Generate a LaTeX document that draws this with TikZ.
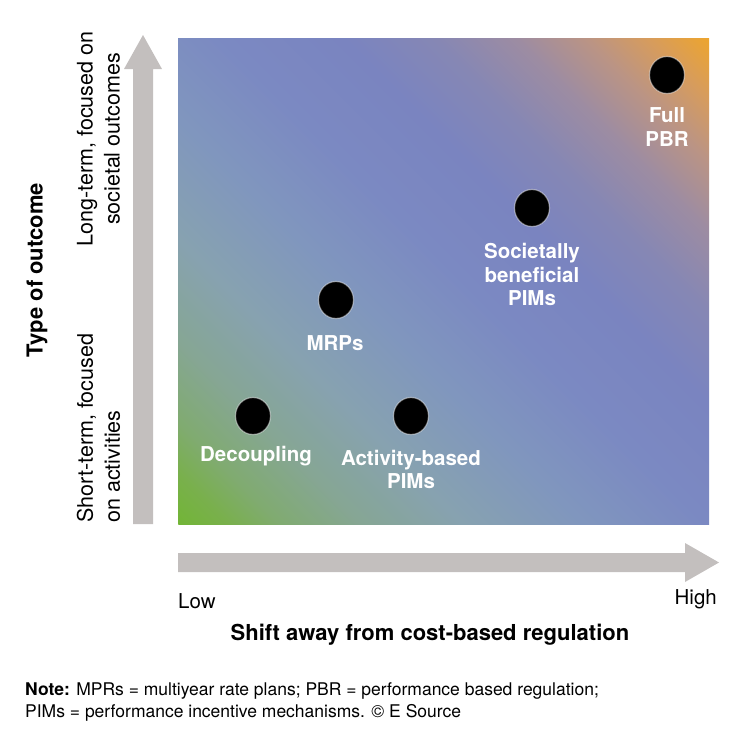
\documentclass[tikz,border=0pt]{standalone}
\usepackage{fontspec}
\setmainfont{TeX Gyre Heros}
\usetikzlibrary{shapes.geometric}
\definecolor{arrowgray}{HTML}{C3BFBE}
\definecolor{gA}{HTML}{72B536}
\definecolor{gB}{HTML}{79B04C}
\definecolor{gC}{HTML}{80AB70}
\definecolor{gD}{HTML}{86A694}
\definecolor{gE}{HTML}{87A2B0}
\definecolor{gF}{HTML}{8096BE}
\definecolor{gG}{HTML}{7B89C2}
\definecolor{gH}{HTML}{7A84C0}
\definecolor{gI}{HTML}{8687B4}
\definecolor{gJ}{HTML}{9D8CA2}
\definecolor{gK}{HTML}{BB9484}
\definecolor{gL}{HTML}{D79C5C}
\definecolor{gM}{HTML}{EDA52E}
\pgfdeclarehorizontalshading{diagshade}{100bp}{color(0bp)=(gA); color(25bp)=(gA); color(27.5bp)=(gB); color(30bp)=(gC); color(34bp)=(gD); color(39bp)=(gE); color(45bp)=(gF); color(51bp)=(gG); color(57bp)=(gH); color(61.5bp)=(gI); color(65.5bp)=(gJ); color(69bp)=(gK); color(72bp)=(gL); color(75bp)=(gM); color(100bp)=(gM)}
\tikzset{
  dot/.style={ellipse, fill=black, draw=white, draw opacity=0.45, line width=1.2pt, minimum width=35pt, minimum height=37pt, inner sep=0pt},
  lbl/.style={text=white, font=\fontsize{20.5}{23.5}\selectfont\bfseries, align=center, inner sep=0pt},
  axtxt/.style={font=\fontsize{21.5}{27}\selectfont, inner sep=0pt},
  lohi/.style={font=\fontsize{20.5}{24}\selectfont, inner sep=0pt},
  axttl/.style={font=\fontsize{22}{26}\selectfont\bfseries, inner sep=0pt},
  notetxt/.style={font=\fontsize{17.5}{22}\selectfont, inner sep=0pt, align=left}
}
\begin{document}
\begin{tikzpicture}[x=1pt,y=-1pt]
\useasboundingbox (0,0) rectangle (732,740);
% gradient square
\begin{scope}
  \clip (178,38) rectangle (709,524);
  \begin{scope}[transform canvas={shift={(443.5,281)},rotate=45}]
    \shade[shading=diagshade] (-359.6,-420) rectangle (359.6,420);
  \end{scope}
\end{scope}
% axis arrows
\fill[arrowgray] (133,524) -- (133,69) -- (124,69) -- (143,35) -- (162,69) -- (153,69) -- (153,524) -- cycle;
\fill[arrowgray] (178,553) -- (685,553) -- (685,543) -- (719,562.5) -- (685,582) -- (685,572) -- (178,572) -- cycle;
% dots
\node[dot] (full) at (667,75) {};
\node[dot] (soc) at (532,208) {};
\node[dot] (mrp) at (336,300) {};
\node[dot] (dec) at (253,416) {};
\node[dot] (act) at (411,416) {};
% labels
\node[lbl] (fullL) at (667,127) {Full\\PBR};
\node[lbl] (socL) at (532,274.5) {Societally\\beneficial\\PIMs};
\node[lbl] (mrpL) at (335,343) {MRPs};
\node[lbl] (decL) at (256,456) {Decoupling};
\node[lbl] (actL) at (411,469.5) {Activity-based\\PIMs};
% axis texts
\node[axttl, rotate=90] (ytitle) at (37,270) {Type of outcome};
\node[axtxt, rotate=90, align=center] (ylong) at (98.5,139) {Long-term, focused on\\societal outcomes};
\node[axtxt, rotate=90, align=left, anchor=west] (yshort) at (98.5,523) {Short-term, focused\\on activities};
\node[lohi, anchor=west] (low) at (178,601) {Low};
\node[lohi, anchor=east] (high) at (717,599) {High};
\node[axttl] (xtitle) at (430,635) {Shift away from cost-based regulation};
\node[notetxt, anchor=north west] (note) at (25,682) {\textbf{Note:} MPRs = multiyear rate plans; PBR = performance based regulation;\\PIMs = performance incentive mechanisms. © E Source};
\end{tikzpicture}
\end{document}
